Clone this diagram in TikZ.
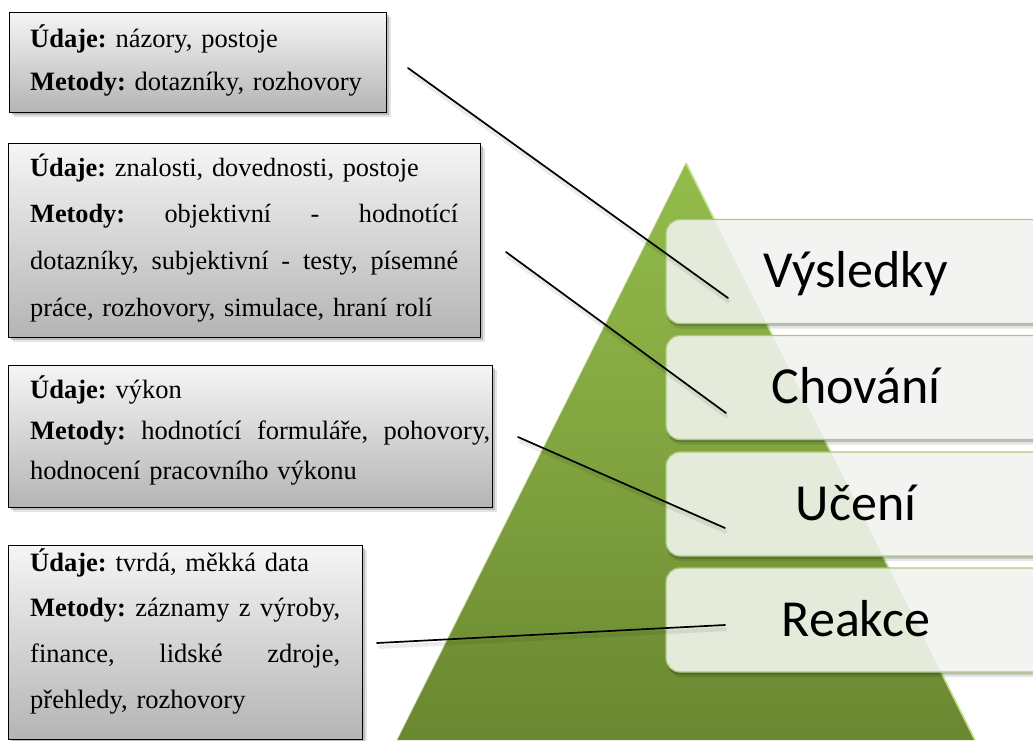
\documentclass[tikz,border=0pt]{standalone}
\usepackage{fontspec}
\setmainfont{Liberation Serif}
\newfontfamily\labelfont{Carlito}
\usetikzlibrary{shadows}
\frenchspacing

\definecolor{pyrtop}{HTML}{93BC4B}
\definecolor{pyrbot}{HTML}{6A8731}
\definecolor{pyredge}{HTML}{C6E28E}
\definecolor{levelfill}{HTML}{F3F3F2}
\definecolor{levelline}{HTML}{A9C97D}
\definecolor{boxtop}{HTML}{F5F5F5}
\definecolor{boxbot}{HTML}{B4B4B4}

% one justified line: the words are spread over the given width
\newcommand\justline[2]{\noindent\hbox to #1{#2}}
\newcommand\gap{\hfill\ }

\tikzset{
  infobox/.style={rectangle, draw=black, line width=1.4pt,
    top color=boxtop, bottom color=boxbot, anchor=north west, inner sep=0pt,
    drop shadow={shadow xshift=4.5pt, shadow yshift=-4.5pt, opacity=.10, fill=black},
    drop shadow={shadow xshift=2.5pt, shadow yshift=-2.5pt, opacity=.18, fill=black}},
  infotext/.style={anchor=north west, inner sep=0pt, align=left},
  level/.style={rectangle, rounded corners=14pt, draw=levelline, line width=1.3pt,
    fill=levelfill,
    path picture={\fill[pyrtop, opacity=.14] (apex) -- (baseL) -- (baseR) -- cycle;},
    minimum width=380pt, minimum height=104pt, text height=42pt, text depth=10pt,
    font=\labelfont\fontsize{52}{60}\selectfont,
    drop shadow={shadow xshift=1pt, shadow yshift=-5pt, opacity=.10, fill=black},
    drop shadow={shadow xshift=0.5pt, shadow yshift=-2.5pt, opacity=.18, fill=black}},
  connector/.style={line width=1.7pt, black, line cap=round},
  connshadow/.style={line width=4pt, black, opacity=.08,
    transform canvas={shift={(1.5pt,-4pt)}}},
}

\begin{document}
\begin{tikzpicture}[x=1pt, y=-1pt]
  \useasboundingbox (0,0) rectangle (1033,740);

  % pyramid
  \coordinate (apex) at (686,163);
  \coordinate (baseL) at (397,740);
  \coordinate (baseR) at (975,740);
  \shade[top color=pyrtop, bottom color=pyrbot, middle color=pyrtop!55!pyrbot]
    (apex) -- (baseL) -- (baseR) -- cycle;
  \draw[pyredge, line width=1.6pt] (apex) -- (baseR);
  \draw[pyrtop!60!white, line width=0.8pt, opacity=.7] (apex) -- (baseL);

  % levels of the pyramid
  \node[level] (vysledky) at (856,271.5) {Výsledky};
  \node[level] (chovani)  at (856,387.5) {Chování};
  \node[level] (uceni)    at (856,504)   {Učení};
  \node[level] (reakce)   at (856,620)   {Reakce};

  % description boxes
  \node[infobox, minimum width=377pt, minimum height=100pt] (box1) at (9,12) {};
  \node[infobox, minimum width=472pt, minimum height=194pt] (box2) at (8,143) {};
  \node[infobox, minimum width=484pt, minimum height=142pt] (box3) at (8,365) {};
  \node[infobox, minimum width=354pt, minimum height=194pt] (box4) at (8,545) {};

  \node[infotext, text width=350pt, font=\fontsize{26.5}{43}\selectfont] (text1) at (30,16.9)
    {\strut\textbf{Údaje:} názory, postoje\\
     \textbf{Metody:} dotazníky, rozhovory};

  \node[infotext, text width=430pt, font=\fontsize{26.3}{46.7}\selectfont] (text2) at (30,143.3)
    {\strut\textbf{Údaje:} znalosti, dovednosti, postoje\\
     \justline{428pt}{\textbf{Metody:}\gap objektivní\gap -\gap hodnotící}\\
     \justline{428pt}{dotazníky,\gap subjektivní\gap -\gap testy,\gap písemné}\\
     práce, rozhovory, simulace, hraní rolí};

  \node[infotext, text width=462pt, font=\fontsize{26.5}{40.8}\selectfont] (text3) at (30,369.6)
    {\strut\textbf{Údaje:} výkon\\
     \justline{460pt}{\textbf{Metody:}\gap hodnotící\gap formuláře,\gap pohovory,}\\
     hodnocení pracovního výkonu};

  \node[infotext, text width=312pt, font=\fontsize{26.5}{45.7}\selectfont] (text4) at (30,539)
    {\strut\textbf{Údaje:} tvrdá, měkká data\\
     \justline{310pt}{\textbf{Metody:}\gap záznamy\gap z\gap výroby,}\\
     \justline{310pt}{finance,\gap lidské\gap zdroje,}\\
     přehledy, rozhovory};

  % connector end points
  \coordinate (c1s) at (408,68);  \coordinate (c1e) at (728,298);
  \coordinate (c2s) at (506,252); \coordinate (c2e) at (726,413);
  \coordinate (c3s) at (518,437); \coordinate (c3e) at (725,528);
  \coordinate (c4s) at (377,643); \coordinate (c4e) at (725,625);

  \foreach \i in {1,...,4} {
    \draw[connshadow] (c\i s) -- (c\i e);
    \draw[connector] (c\i s) -- (c\i e);
  }
\end{tikzpicture}
\end{document}
